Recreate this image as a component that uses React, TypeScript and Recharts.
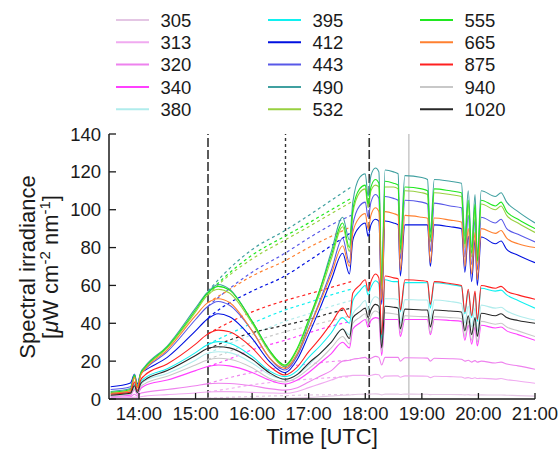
import { LineChart, Line, XAxis, YAxis, ReferenceLine } from 'recharts'

// sample times (decimal hours UTC) of the measured (solid) curves
const TIMES = [
  13.5, 13.85, 13.92, 13.97, 14.03, 14.1, 14.5, 15.0, 15.2, 15.4,
  15.6, 16.0, 16.3, 16.58, 16.8, 17.0, 17.2, 17.4, 17.6, 17.72,
  17.78, 17.9, 18.0, 18.05, 18.1, 18.18, 18.24, 18.29, 18.35, 18.5,
  18.58, 18.62, 18.7, 19.0, 19.1, 19.15, 19.22, 19.5, 19.7, 19.76,
  19.82, 19.88, 19.94, 19.98, 20.05, 20.3, 20.4, 20.5, 20.7, 21.0,
]

// sample times of the dashed (cloud-free) curves
const DASH_TIMES = [15.22, 15.5, 16.0, 16.58, 17.0, 17.4, 17.75]

const LABELS = ['305', '313', '320', '340', '380', '395', '412', '443', '490', '532', '555', '665', '875', '940', '1020']
const COLORS = [
  '#e4c6e4', '#f0aaf0', '#ee82ee', '#ff40ff', '#b0ecec',
  '#10f0f0', '#0010e0', '#5858e8', '#40a0a0', '#98d040',
  '#20e820', '#ff8030', '#ff2020', '#c8c8c8', '#282828',
]

const s305 = [
  0, 0, 0.1, 0, 0.1, 0.1, 0.2, 0.3, 0.35, 0.4,
  0.4, 0.35, 0.3, 0.3, 0.5, 0.8, 1.2, 1.6, 2, 2.1,
  2.3, 2.5, 2.6, 2.5, 2.6, 2.7, 2.6, 2.2, 2.6, 2.6,
  2.6, 2.4, 2.6, 2.5, 2.5, 2.3, 2.4, 2.4, 2.3, 2.2,
  2.3, 2.1, 2.2, 2.1, 2.2, 2.1, 2.1, 2, 1.8, 1.5,
]
const s313 = [
  0.5, 0.6, 1, 0.8, 1.2, 1.5, 2.3, 3.2, 3.7, 3.9,
  3.9, 3.5, 3.2, 3, 4, 6, 8, 10, 12, 12.2,
  12.5, 12.5, 12.5, 12, 12.5, 13, 12.8, 11, 12.1, 12.2,
  12.2, 11.5, 12.2, 12.1, 12, 11.3, 12, 11.8, 11.6, 11,
  11.3, 10.8, 11.2, 10.8, 11, 10.5, 10.8, 10.2, 9.5, 8.3,
]
const s320 = [
  1, 1.2, 2.5, 1.5, 3, 3.5, 5, 7, 8, 8.3,
  8.2, 7, 5.5, 4.7, 6, 9, 12, 15, 20, 20.5,
  21, 21.5, 22, 21, 21.5, 22.5, 22, 18, 22, 22,
  22, 20, 21.8, 21.7, 21.6, 20, 21.5, 21.3, 21, 20,
  20.5, 19.5, 20.3, 19.5, 20, 19, 19.5, 18.5, 17.5, 15.7,
]
const s340 = [
  1.5, 2, 5, 2.5, 5.5, 7, 10, 15, 17, 18,
  17.5, 14, 10, 7.9, 10, 14, 19, 24, 30, 27,
  37, 40, 42, 38, 41.5, 43, 42.5, 23, 42, 42,
  42, 33, 42, 42, 42, 34, 42, 41.5, 41, 31,
  39, 29, 38, 28, 39, 37.5, 38, 36, 34, 31,
]
const s380 = [
  2, 3, 6.5, 3.5, 7.5, 9.5, 13.5, 20.5, 24, 25,
  24.5, 19, 13, 10.5, 13, 18, 24, 30, 37, 34,
  45, 49, 52, 47, 51, 54, 53, 29, 53, 53,
  52.5, 40, 52.5, 52.3, 52.3, 42, 52.3, 51.5, 50.5, 40,
  49, 38, 48, 36, 49.6, 48, 48.5, 46.5, 44, 41.7,
]
const s395 = [
  3, 4, 8, 4.5, 9, 11, 16, 24.5, 28.5, 30.3,
  29.5, 22.5, 15, 11.8, 15, 22, 28, 35, 43, 40,
  52, 57, 60, 55, 59, 62.5, 61, 32, 63, 62,
  62, 46, 61.5, 61.5, 61.4, 48, 61.4, 60.5, 59.5, 45,
  57, 43, 56, 41, 58.5, 57, 57.5, 55, 52, 48,
]
const s412 = [
  6.5, 8.5, 13, 8, 13.5, 15, 22, 36, 42, 45,
  43.5, 32, 20, 13.9, 21, 34, 48, 63, 77, 66,
  84, 91, 93, 86, 92, 95, 94, 50, 94, 93,
  92, 65, 92, 92, 92, 70, 92, 91, 90, 67,
  86, 62, 84, 60, 85.6, 82, 83.5, 79, 76, 72,
]
const s443 = [
  5, 6.5, 12, 7, 13, 15.5, 25, 42, 48.5, 51.5,
  49.5, 36, 22, 15.3, 23, 37, 52, 68, 85, 72,
  92, 102, 104, 96, 104, 108, 106, 55, 107, 106,
  105, 74, 105, 104, 103, 78, 103.5, 102, 101, 75,
  97, 71, 95, 68, 96, 93, 95, 90, 87, 83,
]
const s490 = [
  4, 5.5, 13, 7, 14, 17, 28, 48, 56, 60.5,
  58, 41, 26, 17, 24, 40, 58, 78, 96, 84,
  104, 117, 119, 107, 118, 122, 120, 62, 121, 120,
  119, 82, 118, 117, 116, 88, 116, 115, 114, 86,
  110, 80, 108, 76, 110, 107, 109, 104, 99, 93,
]
const s532 = [
  3, 4.5, 12, 6, 13, 16, 27, 46, 54.5, 58,
  56, 40, 25, 17.5, 26, 41, 56, 74, 91, 78,
  98, 109, 111, 101, 110, 113, 112, 58, 112, 112,
  111, 77, 110, 109, 108, 83, 109, 108, 107, 80,
  103, 75, 101, 72, 103, 100, 102, 97, 93, 88,
]
const s555 = [
  3.5, 5, 12.5, 6.5, 13.5, 16.5, 27.5, 47, 55.5, 59.5,
  57.5, 41, 26, 18, 27, 42, 58, 76, 93, 80,
  100, 111, 113, 103, 112, 116, 114, 60, 115, 114,
  113, 79, 112, 111, 110, 85, 111, 110, 109, 82,
  105, 77, 103, 73, 105, 102, 104, 99, 95, 90,
]
const s665 = [
  3, 4.5, 11.5, 6, 12.5, 15.5, 26, 44, 50.5, 53,
  51, 36, 22, 16.2, 24, 37, 51, 66, 81, 70,
  88, 96, 98, 90, 97, 101, 99, 52, 99, 98,
  97, 68, 97, 96, 95.5, 72, 95.6, 94.5, 93.5, 70,
  90, 66, 88, 63, 90, 87.5, 89, 85, 82, 80,
]
const s875 = [
  2.5, 3.5, 9, 4.5, 10, 12.5, 18.5, 29, 34, 36.4,
  35.5, 27, 17.5, 12.7, 17, 25, 32, 40, 48, 43,
  56, 60, 63, 57, 62, 66, 64, 34, 65, 64,
  63.5, 47, 63, 62.5, 62, 50, 62, 61, 60, 46,
  58, 44, 57, 42, 60, 58.5, 59.5, 57, 55, 52.7,
]
const s940 = [
  1.5, 2.5, 5.5, 3, 6.5, 8, 12, 18, 20.5, 21.5,
  21, 16.5, 11, 9, 11.5, 16, 21, 27, 33, 29,
  40, 43, 45, 40, 44, 46.5, 45.5, 25, 45.5, 45,
  44.5, 35, 44, 43.5, 43.5, 35, 43.5, 43, 42.5, 33,
  41, 31, 40, 30, 41, 39.5, 40, 38, 36, 33,
]
const s1020 = [
  2, 3, 7, 3.5, 8, 10, 15, 23, 26.5, 27.6,
  27, 21, 14, 10.4, 13, 19, 24, 30, 37, 32,
  43, 46, 48, 43, 47, 50, 49, 27, 49, 48.5,
  48, 37, 47.5, 47, 47, 38, 47, 46.5, 46, 36,
  44, 34, 43, 33, 45.3, 44, 45, 43, 41.5, 40,
]

const d305 = [0.4, 0.8, 1.3, 1.8, 2.1, 2.3, 2.4]
const d313 = [3.8, 5, 7.5, 9.5, 10.5, 11.3, 11.8]
const d320 = [8.1, 10.5, 14, 17, 18.5, 19.8, 20.5]
const d340 = [17.2, 20, 26, 31, 35, 38.5, 41]
const d380 = [24, 28, 34, 41, 45, 49, 52]
const d395 = [29, 33, 40, 47, 51, 55, 58]
const d412 = [43, 49, 57, 65, 73, 81, 88]
const d443 = [49, 56, 67, 77, 85, 92, 97]
const d490 = [57, 66, 79, 89, 97, 105, 112]
const d532 = [55, 63, 74, 84, 91, 98, 104]
const d555 = [56, 64, 76, 86, 93, 100, 106]
const d665 = [51, 56, 65, 73, 80, 86, 91]
const d875 = [34.5, 39, 46, 52, 55.5, 59, 62]
const d940 = [21, 24, 30, 35.5, 38.5, 41.5, 44]
const d1020 = [26.5, 30, 35, 39, 42, 45.5, 48]

const SOLID = [s305, s313, s320, s340, s380, s395, s412, s443, s490, s532, s555, s665, s875, s940, s1020]
const DASHED = [d305, d313, d320, d340, d380, d395, d412, d443, d490, d532, d555, d665, d875, d940, d1020]

const X_TICKS = [14, 15, 16, 17, 18, 19, 20, 21]
const Y_TICKS = [0, 20, 40, 60, 80, 100, 120, 140]

// vertical markers
const LONG_DASH_MARKS = [15.22, 18.07]
const DOT_MARK = 16.59
const GRAY_MARK = 18.77

const FONT = '"Liberation Sans", Arial, sans-serif'
const INK = '#1a1a1a'

const rows = Array.from(new Set([...TIMES, ...DASH_TIMES]))
  .sort((a, b) => a - b)
  .map((t) => {
    const row: Record<string, number> = { t }
    const i = TIMES.indexOf(t)
    const j = DASH_TIMES.indexOf(t)
    LABELS.forEach((w, k) => {
      if (i >= 0) row['s' + w] = SOLID[k][i]
      if (j >= 0) row['d' + w] = DASHED[k][j]
    })
    return row
  })

const BottomTick = ({ x, y, payload }: any) => (
  <g>
    <line x1={x} y1={y} x2={x} y2={y - 6} stroke={INK} strokeWidth={1.3} />
    <text x={x} y={y + 21} textAnchor="middle" fontSize={18.5} fontFamily={FONT} fill={INK}>
      {`${payload.value}:00`}
    </text>
  </g>
)

const TopTick = ({ x, y }: any) => (
  <line x1={x} y1={y} x2={x} y2={y + 6} stroke={INK} strokeWidth={1.3} />
)

const LeftTick = ({ x, y, payload }: any) => (
  <g>
    <line x1={x} y1={y} x2={x + 7} y2={y} stroke={INK} strokeWidth={1.3} />
    <text x={x - 8} y={y + 6.5} textAnchor="end" fontSize={18.5} fontFamily={FONT} fill={INK}>
      {payload.value}
    </text>
  </g>
)

const RightTick = ({ x, y }: any) => (
  <line x1={x} y1={y} x2={x - 7} y2={y} stroke={INK} strokeWidth={1.3} />
)

const YTitle = () => {
  const cy = 267
  return (
    <g fontFamily={FONT} fontSize={22} fill={INK}>
      <text x={35} y={cy} textAnchor="middle" transform={`rotate(-90, 35, ${cy})`}>
        Spectral irradiance
      </text>
      <text x={58} y={cy} textAnchor="middle" transform={`rotate(-90, 58, ${cy})`}>
        [<tspan fontStyle="italic">μ</tspan>W cm
        <tspan dy={-8} fontSize={15}>-2</tspan>
        <tspan dy={8}> nm</tspan>
        <tspan dy={-8} fontSize={15}>-1</tspan>
        <tspan dy={8}>]</tspan>
      </text>
    </g>
  )
}

const XTitle = ({ viewBox }: any) => (
  <text
    x={viewBox.x + viewBox.width / 2}
    y={444}
    textAnchor="middle"
    fontSize={22}
    fontFamily={FONT}
    fill={INK}
  >
    Time [UTC]
  </text>
)

const LEGEND_COL_X = [116, 268, 420]
const LEGEND_ROW_Y = [20, 42.3, 64.6, 87, 109.3]

function WaveLegend() {
  return (
    <svg width={560} height={130} style={{ position: 'absolute', left: 0, top: 0 }}>
      {LABELS.map((w, k) => {
        const cx = LEGEND_COL_X[Math.floor(k / 5)]
        const cy = LEGEND_ROW_Y[k % 5]
        return (
          <g key={w}>
            <line x1={cx} y1={cy} x2={cx + 33} y2={cy} stroke={COLORS[k]} strokeWidth={2} />
            <text x={cx + 44.5} y={cy + 6.5} fontSize={18.5} fontFamily={FONT} fill={INK}>
              {w}
            </text>
          </g>
        )
      })}
    </svg>
  )
}

export default function App() {
  return (
    <div style={{ position: 'absolute', left: 0, top: 0, width: 560, height: 449, background: '#fff' }}>
      <LineChart
        width={560}
        height={449}
        data={rows}
        margin={{ top: 134, right: 25, bottom: 0, left: 0 }}
      >
        <XAxis
          dataKey="t"
          type="number"
          domain={[13.47, 21]}
          ticks={X_TICKS}
          interval={0}
          allowDataOverflow
          height={50}
          tickSize={0}
          tickMargin={0}
          tickLine={false}
          axisLine={{ stroke: INK, strokeWidth: 1.5 }}
          tick={<BottomTick />}
          label={<XTitle />}
        />
        <XAxis
          xAxisId="top"
          orientation="top"
          dataKey="t"
          type="number"
          domain={[13.47, 21]}
          ticks={X_TICKS}
          interval={0}
          allowDataOverflow
          height={0}
          tickSize={0}
          tickMargin={0}
          tickLine={false}
          axisLine={{ stroke: INK, strokeWidth: 1.5 }}
          tick={<TopTick />}
        />
        <YAxis
          type="number"
          domain={[0, 140]}
          ticks={Y_TICKS}
          interval={0}
          width={109}
          tickSize={0}
          tickMargin={0}
          tickLine={false}
          axisLine={{ stroke: INK, strokeWidth: 1.5 }}
          tick={<LeftTick />}
          label={<YTitle />}
        />
        <YAxis
          yAxisId="right"
          orientation="right"
          type="number"
          domain={[0, 140]}
          ticks={Y_TICKS}
          interval={0}
          width={0}
          tickSize={0}
          tickMargin={0}
          tickLine={false}
          axisLine={{ stroke: INK, strokeWidth: 1.5 }}
          tick={<RightTick />}
        />
        {LONG_DASH_MARKS.map((m) => (
          <ReferenceLine key={m} x={m} stroke="#333" strokeWidth={1.6} strokeDasharray="9 3" />
        ))}
        <ReferenceLine x={DOT_MARK} stroke="#333" strokeWidth={1.4} strokeDasharray="3 3" />
        <ReferenceLine x={GRAY_MARK} stroke="#c8c8c8" strokeWidth={1.5} />
        {LABELS.map((w, k) => (
          <Line
            key={'d' + w}
            type="monotone"
            dataKey={'d' + w}
            stroke={COLORS[k]}
            strokeWidth={1.2}
            strokeDasharray="3 3"
            dot={false}
            connectNulls
            isAnimationActive={false}
          />
        ))}
        {LABELS.map((w, k) => (
          <Line
            key={'s' + w}
            type="monotone"
            dataKey={'s' + w}
            stroke={COLORS[k]}
            strokeWidth={1.1}
            dot={false}
            connectNulls
            isAnimationActive={false}
          />
        ))}
      </LineChart>
      <WaveLegend />
    </div>
  )
}
